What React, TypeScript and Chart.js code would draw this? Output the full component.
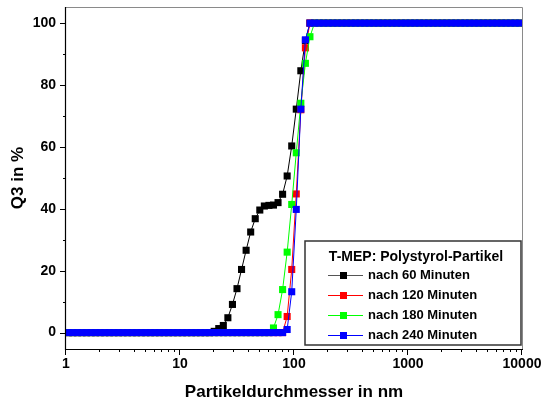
import React, { useEffect, useRef } from 'react';
import { Chart, registerables } from 'chart.js';

Chart.register(...registerables);

// particle size grid (nm)
const sizeNm = [
  1.047, 1.148, 1.259, 1.380, 1.514, 1.660, 1.820, 1.995, 2.188, 2.399, 2.630, 2.884, 3.162, 3.467, 3.802, 4.169, 4.571, 5.012, 5.495, 6.026, 6.607, 7.244, 7.943, 8.710, 9.550,
  10.47, 11.48, 12.59, 13.80, 15.14, 16.60, 18.20, 19.95, 21.88, 23.99, 26.30, 28.84, 31.62, 34.67, 38.02, 41.69, 45.71, 50.12, 54.95, 60.26, 66.07, 72.44, 79.43, 87.10, 95.50,
  104.7, 114.8, 125.9, 138.0, 151.4, 166.0, 182.0, 199.5, 218.8, 239.9, 263.0, 288.4, 316.2, 346.7, 380.2, 416.9, 457.1, 501.2, 549.5, 602.6, 660.7, 724.4, 794.3, 871.0, 955.0,
  1047, 1148, 1259, 1380, 1514, 1660, 1820, 1995, 2188, 2399, 2630, 2884, 3162, 3467, 3802, 4169, 4571, 5012, 5495, 6026, 6607, 7244, 7943, 8710, 9550,
];

const q60 = [
  0, 0, 0, 0, 0, 0, 0, 0, 0, 0, 0, 0, 0, 0, 0, 0, 0, 0, 0, 0, 0, 0, 0, 0, 0,
  0, 0, 0, 0, 0, 0, 0, 0.4, 1.3, 2.3, 4.8, 9.1, 14.2, 20.4, 26.6, 32.5, 36.8, 39.6, 40.9, 41.1, 41.2, 42.0, 44.7, 50.6, 60.3,
  72.2, 84.6, 94.3, 100, 100, 100, 100, 100, 100, 100, 100, 100, 100, 100, 100, 100, 100, 100, 100, 100, 100, 100, 100, 100, 100,
  100, 100, 100, 100, 100, 100, 100, 100, 100, 100, 100, 100, 100, 100, 100, 100, 100, 100, 100, 100, 100, 100, 100, 100, 100,
];

const q120 = [
  0, 0, 0, 0, 0, 0, 0, 0, 0, 0, 0, 0, 0, 0, 0, 0, 0, 0, 0, 0, 0, 0, 0, 0, 0,
  0, 0, 0, 0, 0, 0, 0, 0, 0, 0, 0, 0, 0, 0, 0, 0, 0, 0, 0, 0, 0, 0, 0, 5.2, 20.4,
  44.8, 72.0, 92.0, 100, 100, 100, 100, 100, 100, 100, 100, 100, 100, 100, 100, 100, 100, 100, 100, 100, 100, 100, 100, 100, 100,
  100, 100, 100, 100, 100, 100, 100, 100, 100, 100, 100, 100, 100, 100, 100, 100, 100, 100, 100, 100, 100, 100, 100, 100, 100,
];

const q180 = [
  0, 0, 0, 0, 0, 0, 0, 0, 0, 0, 0, 0, 0, 0, 0, 0, 0, 0, 0, 0, 0, 0, 0, 0, 0,
  0, 0, 0, 0, 0, 0, 0, 0, 0, 0, 0, 0, 0, 0, 0, 0, 0, 0, 0, 0, 1.5, 5.8, 13.9, 26.0, 41.4,
  58.1, 74.1, 87.0, 95.6, 100, 100, 100, 100, 100, 100, 100, 100, 100, 100, 100, 100, 100, 100, 100, 100, 100, 100, 100, 100, 100,
  100, 100, 100, 100, 100, 100, 100, 100, 100, 100, 100, 100, 100, 100, 100, 100, 100, 100, 100, 100, 100, 100, 100, 100, 100,
];

const q240 = [
  0, 0, 0, 0, 0, 0, 0, 0, 0, 0, 0, 0, 0, 0, 0, 0, 0, 0, 0, 0, 0, 0, 0, 0, 0,
  0, 0, 0, 0, 0, 0, 0, 0, 0, 0, 0, 0, 0, 0, 0, 0, 0, 0, 0, 0, 0, 0, 0, 1.0, 13.2,
  39.8, 72.2, 94.6, 100, 100, 100, 100, 100, 100, 100, 100, 100, 100, 100, 100, 100, 100, 100, 100, 100, 100, 100, 100, 100, 100,
  100, 100, 100, 100, 100, 100, 100, 100, 100, 100, 100, 100, 100, 100, 100, 100, 100, 100, 100, 100, 100, 100, 100, 100, 100,
];

const seriesLabels = ['nach 60 Minuten', 'nach 120 Minuten', 'nach 180 Minuten', 'nach 240 Minuten'];
const seriesColors = ['#000000', '#ff0000', '#00ff00', '#0000ff'];
const legendTitle = 'T-MEP: Polystyrol-Partikel';
const xTitle = 'Partikeldurchmesser in nm';
const yTitle = 'Q3 in %';
const xTickValues = [1, 10, 100, 1000, 10000];
const xMinorMantissas = [2, 3, 4, 5, 6, 7, 8, 9];
const yTickValues = [0, 20, 40, 60, 80, 100];
const yMinorValues = [10, 30, 50, 70, 90];

const FAMILY = "'Liberation Sans', Arial, Helvetica, sans-serif";

export default function App() {
  const ref = useRef<HTMLCanvasElement>(null);

  useEffect(() => {
    const canvas = ref.current;
    if (!canvas) return;
    const seriesData = [q60, q120, q180, q240];
    const datasets = seriesData.map((ys, i) => ({
      label: seriesLabels[i],
      data: sizeNm.map((x, j) => ({ x, y: ys[j] })),
      borderColor: seriesColors[i],
      backgroundColor: seriesColors[i],
      borderWidth: 1,
      pointStyle: 'rect' as const,
      pointRadius: 5,
      pointHoverRadius: 5,
      pointBorderWidth: 0,
      pointBackgroundColor: seriesColors[i],
      tension: 0,
      order: 4 - i,
    }));

    const decorPlugin = {
      id: 'decor',
      afterDraw(chart: any) {
        const { ctx, chartArea: a, scales } = chart;
        const xs = scales.x;
        const ys = scales.y;
        ctx.save();
        // top & right frame (grey)
        ctx.lineWidth = 1;
        ctx.strokeStyle = '#8a8a8a';
        ctx.beginPath();
        ctx.moveTo(a.left, a.top + 0.5);
        ctx.lineTo(a.right + 0.5, a.top + 0.5);
        ctx.lineTo(a.right + 0.5, a.bottom);
        ctx.stroke();
        // axes
        ctx.strokeStyle = '#000';
        ctx.lineWidth = 1.2;
        ctx.beginPath();
        ctx.moveTo(a.left - 0.5, a.top);
        ctx.lineTo(a.left - 0.5, a.bottom + 0.5);
        ctx.lineTo(a.right + 1, a.bottom + 0.5);
        ctx.stroke();
        // ticks
        ctx.lineWidth = 1;
        ctx.beginPath();
        yTickValues.forEach((v) => {
          const p = Math.round(ys.getPixelForValue(v)) + 0.5;
          ctx.moveTo(a.left - 6, p);
          ctx.lineTo(a.left, p);
        });
        yMinorValues.forEach((v) => {
          const p = Math.round(ys.getPixelForValue(v)) + 0.5;
          ctx.moveTo(a.left - 3, p);
          ctx.lineTo(a.left, p);
        });
        xTickValues.forEach((v) => {
          const p = Math.round(xs.getPixelForValue(v)) - 0.5;
          ctx.moveTo(p, a.bottom);
          ctx.lineTo(p, a.bottom + 6);
        });
        xTickValues.slice(0, -1).forEach((d) => {
          xMinorMantissas.forEach((m) => {
            const p = Math.round(xs.getPixelForValue(m * d)) - 0.5;
            ctx.moveTo(p, a.bottom);
            ctx.lineTo(p, a.bottom + 3);
          });
        });
        ctx.stroke();

        // legend box
        const bx = 305, by = 241, bw = 216, bh = 104;
        ctx.fillStyle = '#fff';
        ctx.fillRect(bx, by, bw, bh);
        ctx.strokeStyle = '#333';
        ctx.lineWidth = 1.5;
        ctx.strokeRect(bx, by, bw, bh);
        ctx.fillStyle = '#000';
        ctx.textBaseline = 'middle';
        ctx.textAlign = 'center';
        ctx.font = `bold 14px ${FAMILY}`;
        ctx.fillText(legendTitle, bx + bw / 2 + 3, by + 16);
        ctx.font = `bold 13px ${FAMILY}`;
        ctx.textAlign = 'left';
        seriesLabels.forEach((lab, i) => {
          const cy = by + 33.5 + i * 20;
          ctx.strokeStyle = i === 0 ? '#555' : seriesColors[i];
          ctx.lineWidth = 1;
          ctx.beginPath();
          ctx.moveTo(bx + 23, Math.round(cy) + 0.5);
          ctx.lineTo(bx + 58, Math.round(cy) + 0.5);
          ctx.stroke();
          ctx.fillStyle = seriesColors[i];
          ctx.fillRect(bx + 35, Math.round(cy) - 3, 7, 7);
          ctx.fillStyle = '#000';
          ctx.fillText(lab, bx + 63, cy + 1);
        });
        ctx.restore();
      },
    };

    const chart = new Chart(canvas, {
      type: 'line',
      data: { datasets: datasets as any },
      options: {
        responsive: false,
        animation: false,
        devicePixelRatio: 1,
        layout: { padding: { top: 7, right: 20, left: 0, bottom: 0 } },
        plugins: {
          legend: { display: false },
          tooltip: { enabled: false },
        },
        scales: {
          x: {
            type: 'logarithmic',
            min: 1,
            max: 10000,
            position: 'bottom',
            grid: { display: false, drawTicks: false },
            border: { display: false },
            afterBuildTicks: (scale: any) => {
              scale.ticks = xTickValues.map((v) => ({ value: v }));
            },
            afterFit: (scale: any) => {
              scale.height = 54;
              scale.paddingLeft = 0;
              scale.paddingRight = 0;
            },
            ticks: {
              autoSkip: false,
              maxRotation: 0,
              minRotation: 0,
              padding: 7,
              color: '#000',
              font: { family: FAMILY, size: 14, weight: 'bold' },
              callback: (v: any) => String(v),
            },
            title: {
              display: true,
              text: xTitle,
              color: '#000',
              font: { family: FAMILY, size: 17, weight: 'bold' },
              padding: { top: 0, bottom: 0 },
            },
          },
          y: {
            type: 'linear',
            min: -5.3,
            max: 105.2,
            grid: { display: false, drawTicks: false },
            border: { display: false },
            afterBuildTicks: (scale: any) => {
              scale.ticks = yTickValues.map((v) => ({ value: v }));
            },
            afterFit: (scale: any) => {
              scale.width = 66;
              scale.paddingTop = 0;
              scale.paddingBottom = 0;
            },
            ticks: {
              padding: 10,
              color: '#000',
              font: { family: FAMILY, size: 14, weight: 'bold' },
              callback: (v: any) => String(v),
            },
            title: {
              display: true,
              text: yTitle,
              color: '#000',
              font: { family: FAMILY, size: 17, weight: 'bold' },
              padding: { top: 8, bottom: 0 },
            },
          },
        },
      } as any,
      plugins: [decorPlugin],
    });
    return () => chart.destroy();
  }, []);

  return (
    <div style={{ position: 'absolute', left: 0, top: 0, width: 542, height: 403, background: '#fff' }}>
      <canvas ref={ref} width={542} height={403} style={{ display: 'block', width: 542, height: 403 }} />
    </div>
  );
}
